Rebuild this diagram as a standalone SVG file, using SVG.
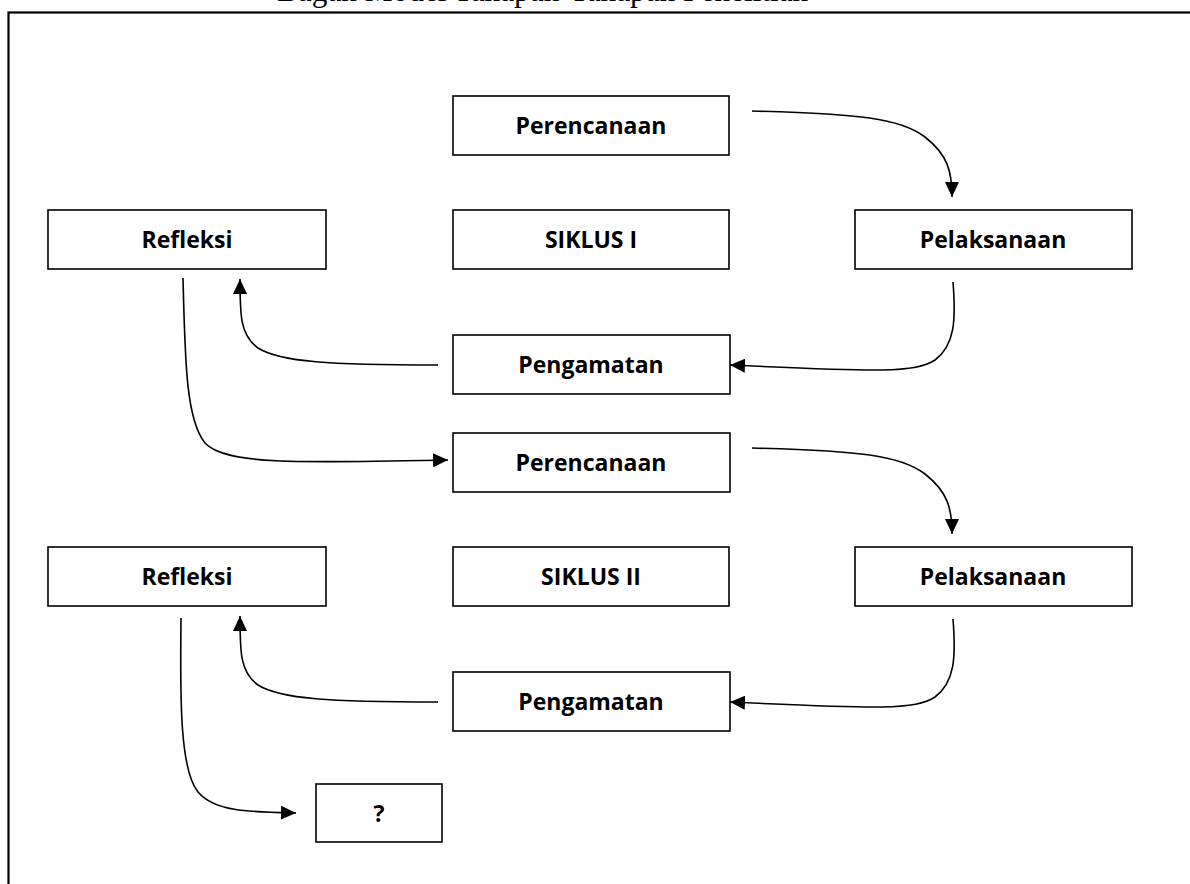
<svg xmlns="http://www.w3.org/2000/svg" width="1190" height="884" viewBox="0 0 1190 884">
  <defs>
    <marker id="arrow" markerUnits="userSpaceOnUse" viewBox="0 0 15 14" refX="15" refY="7" markerWidth="15" markerHeight="14" orient="auto">
      <path d="M0,0 L15,7 L0,14 z" fill="#000"/>
    </marker>
    <style>
      .box { fill: #fff; stroke: #000; stroke-width: 1.6; }
      .lbl { font-family: "Open Sans", "Liberation Sans", sans-serif; font-weight: bold; font-size: 23px; fill: #000; text-anchor: middle; }
      .conn { fill: none; stroke: #000; stroke-width: 1.6; marker-end: url(#arrow); }
      .title { font-family: "Liberation Serif", "Times New Roman", serif; font-size: 31.3px; fill: #000; }
    </style>
  </defs>
  <rect x="0" y="0" width="1190" height="884" fill="#fff"/>
  <text class="title" x="277" y="1">Bagan Model Tahapan-Tahapan Penelitian</text>
  <rect x="8.5" y="12.5" width="1200" height="900" fill="none" stroke="#000" stroke-width="2.2"/>

  <g id="perencanaan1"><rect class="box" x="453" y="96" width="276" height="59"/><text class="lbl" x="591" y="134">Perencanaan</text></g>
  <g id="refleksi1"><rect class="box" x="48" y="210" width="278" height="59"/><text class="lbl" x="187" y="248">Refleksi</text></g>
  <g id="siklus1"><rect class="box" x="453" y="210" width="276" height="59"/><text class="lbl" x="591" y="248">SIKLUS I</text></g>
  <g id="pelaksanaan1"><rect class="box" x="855" y="210" width="277" height="59"/><text class="lbl" x="993" y="248">Pelaksanaan</text></g>
  <g id="pengamatan1"><rect class="box" x="453" y="335" width="277" height="59"/><text class="lbl" x="591" y="373">Pengamatan</text></g>

  <g id="perencanaan2"><rect class="box" x="453" y="433" width="277" height="59"/><text class="lbl" x="591" y="471">Perencanaan</text></g>
  <g id="refleksi2"><rect class="box" x="48" y="547" width="278" height="59"/><text class="lbl" x="187" y="585">Refleksi</text></g>
  <g id="siklus2"><rect class="box" x="453" y="547" width="276" height="59"/><text class="lbl" x="591" y="585">SIKLUS II</text></g>
  <g id="pelaksanaan2"><rect class="box" x="855" y="547" width="277" height="59"/><text class="lbl" x="993" y="585">Pelaksanaan</text></g>
  <g id="pengamatan2"><rect class="box" x="453" y="672" width="277" height="59"/><text class="lbl" x="591" y="710">Pengamatan</text></g>
  <g id="tanya"><rect class="box" x="316" y="784" width="126" height="58"/><text class="lbl" x="379" y="822">?</text></g>

  <g id="connectors">
    <path class="conn" d="M752,111 C860,114 900,118 925,137 C948,155 952,172 952,197"/>
    <path class="conn" d="M953,282 C956,320 955,345 935,360 C915,373 880,372 730,365"/>
    <path class="conn" d="M438,365 C330,365 280,362 258,348 C240,335 240,315 240,279"/>
    <path class="conn" d="M183,278 C185,360 186,420 205,443 C225,465 300,463 448,460"/>
    <path class="conn" d="M752,448 C860,451 900,455 925,474 C948,492 952,509 952,534"/>
    <path class="conn" d="M953,619 C956,657 955,682 935,697 C915,710 880,709 730,702"/>
    <path class="conn" d="M438,702 C330,702 280,699 258,685 C240,672 240,652 240,616"/>
    <path class="conn" d="M181,618 C180,700 180,770 198,792 C215,812 250,812 296,813"/>
  </g>
</svg>
